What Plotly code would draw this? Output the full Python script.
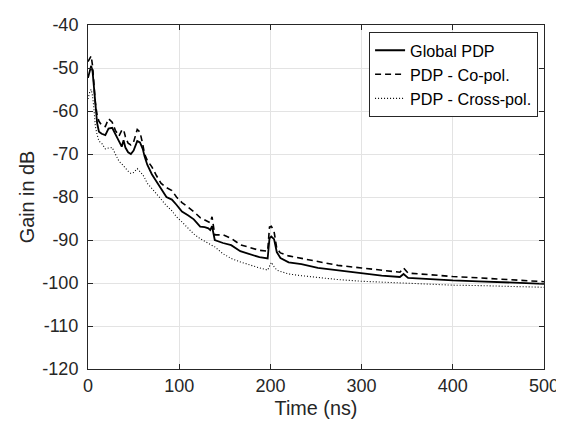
import plotly.graph_objects as go

# Time axis (ns)
t = [0, 2, 3.5, 5, 6.5, 8, 10, 12, 15, 19, 22.5, 26.5, 30, 34, 37, 39, 41, 44, 47, 50,
     54, 57, 60, 62, 65, 70, 75, 80, 86, 92, 97, 103, 110, 116, 123, 128, 132, 134, 136, 139,
     148, 157, 167, 177, 188, 197, 199, 201, 204, 207, 211, 220, 234, 252, 274, 300, 322, 342,
     346, 351, 377, 400, 428, 457, 493, 500]

global_pdp = [-52.3, -50.4, -49.5, -50.8, -55, -59.5, -62.8, -64.8, -65.3, -65.6, -64.1, -63.9,
              -65.5, -67.3, -68.3, -66.8, -68.5, -69.6, -70, -69.2, -67, -67.3, -68.8, -70.5,
              -72.5, -74.7, -76.2, -78, -80, -80.6, -81.8, -83.4, -84.3, -85.2, -86.9, -87,
              -87.3, -87.7, -86.8, -90, -90.7, -91.2, -92.6, -93.3, -94, -94.3, -89.6, -89.2,
              -89.8, -92.8, -94.2, -95.2, -95.6, -96.5, -97.1, -97.7, -98.3, -98.6, -97.9,
              -98.8, -99.2, -99.4, -99.6, -99.8, -100.1, -100.2]

co_pol = [-48.5, -47.8, -47.2, -49.5, -54, -58, -61, -62.4, -63.3, -63.6, -61.8, -62.6,
          -64.5, -65.8, -64.5, -64.3, -66, -67.5, -67.9, -67.2, -64.3, -64.9, -67.7, -70,
          -71.5, -73, -75, -76.8, -77.8, -78.5, -80, -81.3, -82.4, -83.4, -84.8, -85.4,
          -85.8, -86, -84.6, -88.8, -88.8, -89.6, -91.1, -91.8, -92.4, -92.6, -87, -86.8,
          -88, -92, -93, -93.7, -94.3, -95, -95.9, -96.5, -97, -97.5, -96.5,
          -97.7, -98.1, -98.5, -98.8, -99.1, -99.6, -99.7]

cross_pol = [-57.2, -55.5, -55, -56.5, -59.4, -63.5, -65.5, -67, -67.5, -68.8, -68.6, -68.5,
             -70, -71.7, -72.3, -72.8, -73.4, -74, -74.5, -74.3, -73.4, -74, -74.8, -75.5,
             -76.8, -78, -79.3, -80.5, -82, -83.2, -84.6, -85.8, -87.3, -88.6, -89.7, -90.3,
             -90.7, -90.9, -91.1, -91.6, -93.2, -94.3, -95.1, -95.8, -96.5, -97, -96, -95.2,
             -96.2, -97, -97.3, -97.9, -98.3, -98.7, -99.2, -99.6, -99.8, -100, -100,
             -100.1, -100.3, -100.5, -100.6, -100.8, -101, -101]

names = ["Global PDP", "PDP - Co-pol.", "PDP - Cross-pol."]

x_ticks = [0, 100, 200, 300, 400, 500]
x_ticklabels = ["0", "100", "200", "300", "400", "500"]
y_ticks = [-120, -110, -100, -90, -80, -70, -60, -50, -40]
y_ticklabels = ["-120", "-110", "-100", "-90", "-80", "-70", "-60", "-50", "-40"]

FONT = "Liberation Sans, Arial, Helvetica, sans-serif"
AX = "#262626"
GRID = "#e3e3e3"

fig = go.Figure()
fig.add_trace(go.Scatter(x=t, y=global_pdp, mode="lines", name=names[0],
                         line=dict(color="black", width=1.8, dash="solid")))
fig.add_trace(go.Scatter(x=t, y=co_pol, mode="lines", name=names[1],
                         line=dict(color="black", width=1.6, dash="6px,4px")))
fig.add_trace(go.Scatter(x=t, y=cross_pol, mode="lines", name=names[2],
                         line=dict(color="black", width=1.1, dash="1px,2px")))

axis_common = dict(
    showline=True, linecolor=AX, linewidth=1, mirror="ticks",
    ticks="inside", ticklen=5, tickcolor=AX, tickwidth=1,
    showgrid=True, gridcolor=GRID, gridwidth=1, zeroline=False,
    tickfont=dict(family=FONT, size=18, color=AX),
    ticklabeloverflow="allow",
)

fig.update_xaxes(range=[0, 500], tickmode="array", tickvals=x_ticks, ticktext=x_ticklabels,
                 title=dict(text="Time (ns)", font=dict(family=FONT, size=19.8, color=AX), standoff=6),
                 **axis_common)
fig.update_yaxes(range=[-120, -40], tickmode="array", tickvals=y_ticks, ticktext=y_ticklabels,
                 ticklabelstandoff=5,
                 title=dict(text="Gain in dB", font=dict(family=FONT, size=19.8, color=AX), standoff=2),
                 **axis_common)

fig.update_layout(
    width=564, height=423,
    margin=dict(l=80, r=28, t=7.5, b=62),
    paper_bgcolor="white", plot_bgcolor="white",
    showlegend=True,
    legend=dict(x=0.987, y=0.979, xanchor="right", yanchor="top",
                bgcolor="white", bordercolor=AX, borderwidth=1,
                font=dict(family=FONT, size=16.2, color="black"),
                itemwidth=30, tracegroupgap=0),
)

fig.write_html("out.html")
